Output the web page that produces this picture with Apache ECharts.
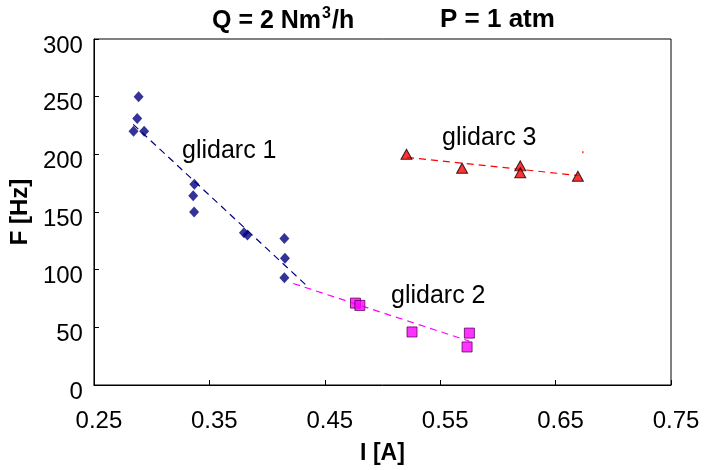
<!DOCTYPE html>
<html>
<head>
<meta charset="utf-8">
<script src="https://cdn.jsdelivr.net/npm/echarts@6/dist/echarts.min.js"></script>
<style>html,body{margin:0;padding:0;background:#fff}#c{width:704px;height:470px}</style>
</head>
<body>
<div id="c"></div>
<script>
// Data
const g1X = [0.2887, 0.2875, 0.2843, 0.2935, 0.337, 0.336, 0.3368, 0.380, 0.383, 0.415, 0.4155, 0.415];
const g1Y = [250, 231, 220, 220, 174, 164, 150, 132, 130, 127, 110, 93];
const g2X = [0.4766, 0.4804, 0.5256, 0.5753, 0.5733];
const g2Y = [71, 69, 46, 45, 33];
const g3X = [0.5208, 0.569, 0.6194, 0.6194, 0.6693];
const g3Y = [200, 188, 190, 184, 181];
const fit1X = [0.284, 0.4334];
const fit1Y = [226, 87];
const fit2X = [0.4227, 0.5753];
const fit2Y = [88, 38];
const fit3X = [0.5213, 0.670];
const fit3Y = [197.4, 181.6];
const strayX = [0.6736];
const strayY = [201.7];
const xTicks = [0.25, 0.35, 0.45, 0.55, 0.65, 0.75];
const yTicks = [0, 50, 100, 150, 200, 250, 300];

const zip = (xs, ys) => xs.map((x, i) => [x, ys[i]]);
const FONT = 'Liberation Sans, Arial, sans-serif';

const chart = echarts.init(document.getElementById('c'), null, {renderer: 'canvas'});
chart.setOption({
  animation: false,
  backgroundColor: '#fff',
  grid: {left: 93, right: 33, top: 39, bottom: 82, show: true, borderColor: '#000', borderWidth: 1, backgroundColor: 'transparent'},
  xAxis: {
    type: 'value', min: xTicks[0], max: xTicks[xTicks.length - 1], interval: 0.1,
    name: 'I [A]', nameLocation: 'middle', nameGap: 57,
    nameTextStyle: {fontFamily: FONT, fontWeight: 'bold', fontSize: 23, color: '#000'},
    axisLine: {lineStyle: {color: '#000', width: 1}},
    axisTick: {inside: true, length: 5, lineStyle: {color: '#000'}},
    splitLine: {show: false},
    axisLabel: {fontFamily: FONT, fontSize: 24, color: '#000', margin: 24, padding: [0, 0, 0, 10],
      formatter: v => v.toFixed(2)}
  },
  yAxis: {
    type: 'value', min: yTicks[0], max: yTicks[yTicks.length - 1], interval: 50,
    name: 'F [Hz]', nameLocation: 'middle', nameGap: 55, nameRotate: 90,
    nameTextStyle: {fontFamily: FONT, fontWeight: 'bold', fontSize: 24, color: '#000', padding: [0, 0, 0, 0]},
    axisLine: {lineStyle: {color: '#000', width: 1}},
    axisTick: {inside: true, length: 5, lineStyle: {color: '#000'}},
    splitLine: {show: false},
    axisLabel: {color: '#000', margin: 11,
      formatter: v => '{a|' + v + '}',
      rich: {a: {fontFamily: FONT, fontSize: 24, color: '#000', padding: [14, 0, 0, 0]}}}
  },
  graphic: [
    {type: 'text', left: 212, top: 6, style: {
      text: '{a|Q = 2 Nm}{s|3}{a|/h}',
      rich: {a: {font: 'bold 25px ' + FONT, fill: '#000'}, s: {font: 'bold 16px ' + FONT, fill: '#000', padding: [0, 1, 14, 1]}}}},
    {type: 'text', left: 440, top: 7, style: {text: 'P = 1 atm', font: 'bold 26px ' + FONT, fill: '#000'}},
    {type: 'text', left: 182, top: 139, style: {text: 'glidarc 1', font: '25px ' + FONT, fill: '#000'}},
    {type: 'text', left: 391, top: 284, style: {text: 'glidarc 2', font: '25px ' + FONT, fill: '#000'}},
    {type: 'text', left: 442, top: 126, style: {text: 'glidarc 3', font: '25px ' + FONT, fill: '#000'}}
  ],
  series: [
    {type: 'line', data: zip(fit1X, fit1Y), symbol: 'none', lineStyle: {color: '#000080', width: 1.2, type: [7, 5]}, z: 1},
    {type: 'line', data: zip(fit2X, fit2Y), symbol: 'none', lineStyle: {color: '#FF00FF', width: 1.2, type: [7, 5]}, z: 1},
    {type: 'line', data: zip(fit3X, fit3Y), symbol: 'none', lineStyle: {color: '#FF0000', width: 1.2, type: [7, 5]}, z: 1},
    {type: 'scatter', data: zip(g1X, g1Y), symbol: 'diamond', symbolSize: [10, 11], itemStyle: {color: '#000080'}, z: 3},
    {type: 'scatter', data: zip(g2X, g2Y), symbol: 'rect', symbolSize: 10, itemStyle: {color: '#FF00FF', borderColor: '#600060', borderWidth: 1}, z: 3},
    {type: 'scatter', data: zip(g3X, g3Y), symbol: 'triangle', symbolSize: [11, 10], itemStyle: {color: '#FF0000', borderColor: '#000', borderWidth: 1}, z: 3},
    {type: 'scatter', data: zip(strayX, strayY), symbol: 'rect', symbolSize: [1.5, 2], itemStyle: {color: '#FF0000'}, z: 3}
  ]
});
</script>
</body>
</html>
